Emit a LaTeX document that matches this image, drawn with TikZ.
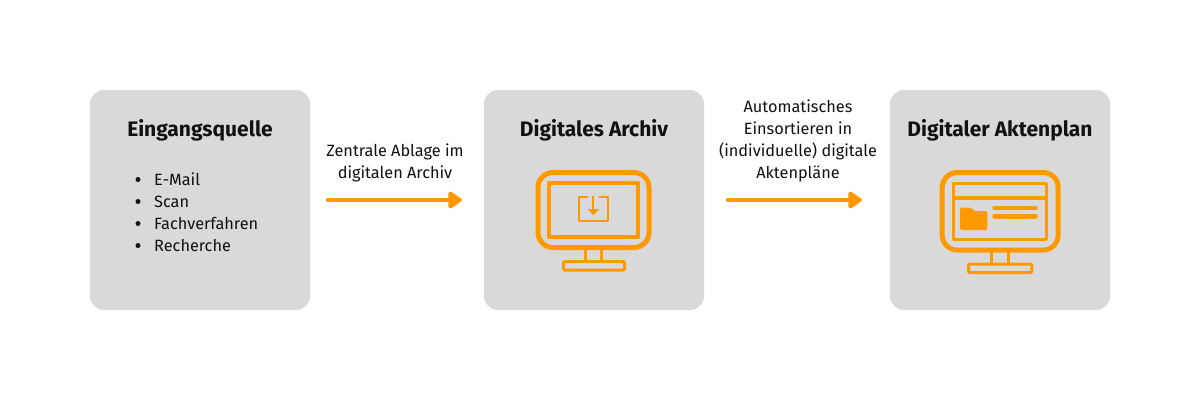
\documentclass[tikz,border=0pt]{standalone}
\usepackage{fontspec}
\setmainfont{Fira Sans}
\usetikzlibrary{arrows.meta}
\definecolor{boxgray}{HTML}{D9D9D9}
\definecolor{accent}{HTML}{FF9900}
\definecolor{ink}{HTML}{111111}
\tikzset{
  panel/.style={fill=boxgray,draw=none,rounded corners=14pt,minimum width=220pt,minimum height=220pt,inner sep=0pt},
  heading/.style={font=\fontsize{21}{24}\selectfont\bfseries,text=ink,anchor=base,inner sep=0pt},
  body/.style={font=\fontsize{16.3}{22}\selectfont,text=ink,inner sep=0pt},
  item/.style={body,anchor=base west},
  note/.style={body,align=center,anchor=center},
  flow/.style={draw=accent,line width=4.6pt,line cap=round,-{Triangle[round,length=15pt,width=19pt,fill=accent]}},
  iconline/.style={draw=accent,line join=round},
  bullet/.style={circle,fill=ink,minimum size=5pt,inner sep=0pt}
}
\begin{document}
\begin{tikzpicture}[x=1pt,y=-1pt]
\useasboundingbox (0,0) rectangle (1200,400);
\fill[white] (0,0) rectangle (1200,400);
\node[panel] (a) at (200,200) {};
\node[panel] (b) at (594,200) {};
\node[panel] (c) at (1000,200) {};
\node[heading] (ta) at (200,136) {Eingangsquelle};
\node[heading] (tb) at (594,136) {Digitales Archiv};
\node[heading] (tc) at (1000,136) {Digitaler Aktenplan};
\node[bullet] (b1) at (138,179.5) {};
\node[bullet] (b2) at (138,201.5) {};
\node[bullet] (b3) at (138,223.5) {};
\node[bullet] (b4) at (138,245.5) {};
\node[item] (i1) at (154,185) {E-Mail};
\node[item] (i2) at (154,207) {Scan};
\node[item] (i3) at (154,229) {Fachverfahren};
\node[item] (i4) at (154,251) {Recherche};
\node[note] (l1) at (395,162.5) {Zentrale Ablage im\\digitalen Archiv};
\node[note] (l2) at (798,140.5) {Automatisches\\Einsortieren in\\(individuelle) digitale\\Aktenpläne};
\draw[flow,shorten <=18pt,shorten >=22pt] (a) -- (b);
\draw[flow,shorten <=24pt,shorten >=28pt] (b) -- (c);
% monitor 1
\draw[iconline,line width=5pt,rounded corners=15pt] (538,172.5) rectangle (649,247.5);
\draw[iconline,line width=4.4pt] (549,183) rectangle (638,237);
\draw[iconline,line width=3pt] (585.5,250) -- (585.5,261) (601.5,250) -- (601.5,261);
\draw[iconline,line width=3pt,rounded corners=1pt] (563.5,261.5) rectangle (624.5,270);
\draw[iconline,line width=2.2pt] (588,197) -- (579,197) -- (579,221) -- (608,221) -- (608,197) -- (598.5,197);
\draw[iconline,line width=2.2pt] (593.3,196) -- (593.3,210);
\fill[accent] (587.5,209) -- (599.5,209) -- (593.5,215) -- cycle;
% monitor 2
\draw[iconline,line width=5pt,rounded corners=15pt] (942.2,172.5) rectangle (1058.2,250);
\draw[iconline,line width=3pt] (953.2,183.2) rectangle (1046.8,239.5);
\draw[iconline,line width=4pt] (953,198) -- (1047,198);
\fill[accent,rounded corners=1.5pt] (960,230) -- (960,207.7) -- (971,207.7) -- (974,211) -- (987.3,211) -- (987.3,230) -- cycle;
\draw[iconline,line width=4.5pt,line cap=round] (994.5,208.2) -- (1035.5,208.2) (994.5,216.3) -- (1035.5,216.3);
\draw[iconline,line width=3pt] (991.8,252) -- (991.8,264) (1008.5,252) -- (1008.5,264);
\draw[iconline,line width=3pt,rounded corners=1pt] (968.5,264.2) rectangle (1031.8,272.5);
\end{tikzpicture}
\end{document}
